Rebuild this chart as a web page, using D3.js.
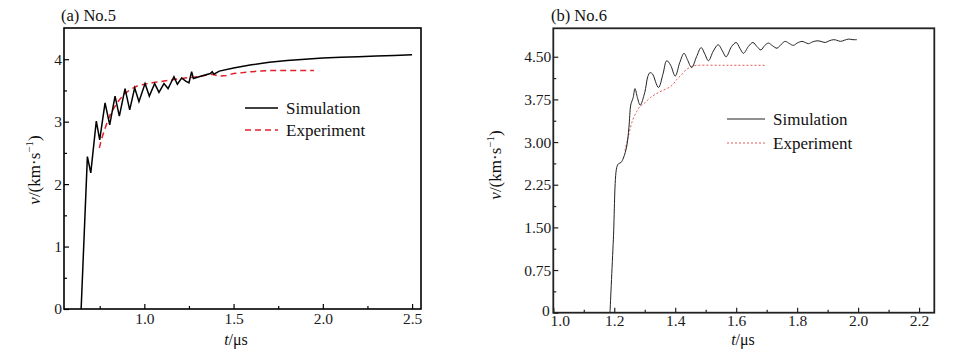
<!DOCTYPE html>
<html><head><meta charset="utf-8">
<script src="https://cdn.jsdelivr.net/npm/d3@7"></script>
<style>
html,body{margin:0;padding:0;background:#fff;}
svg{display:block;font-family:"Liberation Serif","Times New Roman",serif;}
</style></head>
<body><svg id="c" width="962" height="358"></svg>
<script>
// ---------- data ----------
const leftSimT = [0.646,0.681,0.700,0.731,0.750,0.780,0.806,0.836,0.860,0.892,0.918,0.946,0.970,1.004,1.028,1.058,1.082,1.110,1.133,1.166,1.185,1.209,1.232,1.250,1.265,1.275,1.320,1.370,1.380,1.390,1.420,1.500,1.600,1.700,1.800,1.900,2.000,2.100,2.200,2.300,2.400,2.500];
const leftSimV = [0,2.44,2.18,3.01,2.71,3.30,2.95,3.41,3.09,3.53,3.19,3.54,3.32,3.61,3.41,3.61,3.47,3.61,3.53,3.72,3.60,3.70,3.65,3.62,3.80,3.69,3.73,3.77,3.80,3.76,3.81,3.86,3.91,3.95,3.98,4.00,4.02,4.03,4.04,4.05,4.06,4.07];
const leftExpT = [0.748,0.760,0.775,0.793,0.810,0.830,0.855,0.886,0.924,0.960,1.000,1.060,1.110,1.200,1.300,1.380,1.420,1.460,1.500,1.600,1.700,1.800,1.950];
const leftExpV = [2.58,2.72,2.85,3.00,3.12,3.22,3.33,3.44,3.52,3.57,3.60,3.63,3.65,3.69,3.72,3.76,3.73,3.74,3.77,3.80,3.82,3.82,3.82];

const rightSimT = [1.186,1.197,1.208,1.214,1.222,1.230,1.241,1.248,1.254,1.258,1.262,1.268,1.276,1.285,1.300,1.310,1.317,1.325,1.345,1.360,1.372,1.385,1.400,1.415,1.429,1.440,1.454,1.470,1.485,1.497,1.509,1.525,1.541,1.555,1.567,1.585,1.600,1.612,1.624,1.640,1.655,1.668,1.681,1.694,1.706,1.720,1.734,1.748,1.761,1.775,1.788,1.800,1.816,1.827,1.837,1.850,1.865,1.878,1.892,1.905,1.920,1.930,1.942,1.955,1.969,1.983,1.996];
const rightSimV = [0,1.28,2.55,2.62,2.64,2.72,2.93,3.25,3.65,3.72,3.78,3.94,3.78,3.65,3.87,4.15,4.22,4.20,3.96,4.20,4.43,4.35,4.16,4.40,4.56,4.45,4.31,4.50,4.66,4.55,4.43,4.60,4.71,4.60,4.50,4.68,4.75,4.65,4.56,4.68,4.75,4.68,4.62,4.70,4.74,4.69,4.65,4.72,4.77,4.73,4.70,4.74,4.77,4.75,4.73,4.76,4.78,4.77,4.75,4.78,4.80,4.79,4.77,4.79,4.81,4.80,4.80];
const rightExpT = [1.235,1.246,1.260,1.274,1.285,1.296,1.318,1.335,1.356,1.383,1.395,1.405,1.420,1.438,1.460,1.480,1.550,1.600,1.700];
const rightExpV = [2.85,3.10,3.38,3.54,3.63,3.67,3.78,3.84,3.90,3.97,4.03,4.10,4.18,4.28,4.34,4.35,4.35,4.35,4.35];

const leftXTicks = [1.0,1.5,2.0,2.5];
const leftXMinor = [0.75,1.25,1.75,2.25];
const leftYTicks = [0,1,2,3,4];
const leftYMinor = [0.5,1.5,2.5,3.5];
const rightXTicks = [1.0,1.2,1.4,1.6,1.8,2.0,2.2];
const rightXMinor = [1.1,1.3,1.5,1.7,1.9,2.1];
const rightYTicks = [0,0.75,1.5,2.25,3.0,3.75,4.5];
const rightYMinor = [0.375,1.125,1.875,2.625,3.375,4.125];
const legendLabels = ["Simulation","Experiment"];
const titles = ["(a) No.5","(b) No.6"];

const svg = d3.select("#c");

function panel(o){
  const x = d3.scaleLinear().domain(o.xDomain).range([o.x0,o.x1]);
  const y = d3.scaleLinear().domain(o.yDomain).range([o.y1,o.y0]);
  const g = svg.append("g");
  // axes
  const ax = g.append("g").attr("transform",`translate(0,${o.y1})`)
    .call(d3.axisBottom(x).tickValues(o.xTicks).tickSize(-5).tickPadding(o.xPad).tickFormat(d3.format(".1f")));
  g.append("g").attr("transform",`translate(0,${o.y1})`)
    .call(d3.axisBottom(x).tickValues(o.xMinor).tickSize(-3).tickFormat(""));
  const ay = g.append("g").attr("transform",`translate(${o.x0},0)`)
    .call(d3.axisLeft(y).tickValues(o.yTicks).tickSize(-5).tickPadding(2).tickFormat(o.yFmt));
  g.append("g").attr("transform",`translate(${o.x0},0)`)
    .call(d3.axisLeft(y).tickValues(o.yMinor).tickSize(-3).tickFormat(""));
  g.selectAll(".domain").remove();
  g.selectAll(".tick line").attr("stroke",o.axisColor).attr("stroke-width",1.2);
  g.selectAll(".tick text").attr("font-family","Liberation Serif, serif").attr("font-size",o.tickFont).attr("fill","#1a1a1a");
  if (o.cornerShift) {
    // nudge the two labels at the shared corner apart, as in the original
    ax.selectAll(".tick text").filter(d=>d===o.xDomain[0]).attr("dx",6.5);
    ay.selectAll(".tick text").filter(d=>d===0).attr("dx",-1.5).attr("dy","0.2em");
  }
  // frame
  g.append("rect").attr("x",o.x0).attr("y",o.y0).attr("width",o.x1-o.x0).attr("height",o.y1-o.y0)
    .attr("fill","none").attr("stroke",o.axisColor).attr("stroke-width",o.frameW);
  // lines
  const lineGen = d3.line().x(d=>x(d[0])).y(d=>y(d[1])).curve(o.curve);
  const sim = o.simT.map((t,i)=>[t,o.simV[i]]);
  const exp = o.expT.map((t,i)=>[t,o.expV[i]]);
  g.append("path").datum(exp).attr("d",lineGen).attr("fill","none")
    .attr("stroke",o.expColor).attr("stroke-width",o.expW).attr("stroke-dasharray",o.expDash);
  g.append("path").datum(sim).attr("d",lineGen).attr("fill","none")
    .attr("stroke",o.simColor).attr("stroke-width",o.simW).attr("stroke-linejoin","miter");
  // legend
  const lg = g.append("g").attr("font-size",17).attr("fill","#111");
  lg.append("line").attr("x1",o.lx).attr("x2",o.lx+o.llen).attr("y1",o.ly1).attr("y2",o.ly1)
    .attr("stroke",o.simColor).attr("stroke-width",o.simW+0.2);
  lg.append("line").attr("x1",o.lx).attr("x2",o.lx+o.llen).attr("y1",o.ly2).attr("y2",o.ly2)
    .attr("stroke",o.expColor).attr("stroke-width",o.expW).attr("stroke-dasharray",o.expDash);
  lg.append("text").attr("x",o.lx+o.llen+8).attr("y",o.ly1+5.5).text(legendLabels[0]);
  lg.append("text").attr("x",o.lx+o.llen+8).attr("y",o.ly2+5.5).text(legendLabels[1]);
  // title
  g.append("text").attr("x",o.tx).attr("y",21).attr("font-size",16.5).attr("fill","#111").text(o.title);
  // x label
  const xl = g.append("text").attr("x",o.xlx).attr("y",345).attr("text-anchor","middle").attr("font-size",16).attr("fill","#111");
  xl.append("tspan").attr("font-style","italic").text("t");
  xl.append("tspan").text("/μs");
  // y label
  const yl = g.append("text").attr("transform",`translate(${o.ylx},${o.yly}) rotate(-90)`)
    .attr("text-anchor","middle").attr("font-size",17).attr("fill","#111");
  yl.append("tspan").attr("font-style","italic").text("v");
  yl.append("tspan").text("/(km·s");
  yl.append("tspan").attr("font-size",11).attr("dy",-7).text("−1");
  yl.append("tspan").attr("dy",7).text(")");
}

panel({
  x0:64,x1:421,y0:28,y1:309,xDomain:[0.55,2.55],yDomain:[0,4.5],
  xTicks:leftXTicks,xMinor:leftXMinor,yTicks:leftYTicks,yMinor:leftYMinor,
  yFmt:d3.format("d"),tickFont:15.5,xPad:4,axisColor:"#000",frameW:1.6,cornerShift:false,
  simT:leftSimT,simV:leftSimV,expT:leftExpT,expV:leftExpV,
  curve:d3.curveLinear,simColor:"#000",simW:1.5,expColor:"#e0202a",expW:1.5,expDash:"6,4",
  lx:245,llen:33,ly1:108,ly2:130,tx:61,title:titles[0],xlx:236,ylx:40,yly:170
});
panel({
  x0:553.3,x1:934.3,y0:28.3,y1:312.7,xDomain:[1.0,2.25],yDomain:[0,5.0],
  xTicks:rightXTicks,xMinor:rightXMinor,yTicks:rightYTicks,yMinor:rightYMinor,
  yFmt:d=>d===0?"0":d3.format(".2f")(d),tickFont:15.5,xPad:2.5,axisColor:"#222",frameW:1.8,cornerShift:true,
  simT:rightSimT,simV:rightSimV,expT:rightExpT,expV:rightExpV,
  curve:d3.curveCatmullRom.alpha(0.5),simColor:"#222",simW:1,expColor:"#e05a5a",expW:1,expDash:"2,2",
  lx:727,llen:38,ly1:119,ly2:143,tx:551,title:titles[1],xlx:743,ylx:501,yly:165
});
</script></body></html>
